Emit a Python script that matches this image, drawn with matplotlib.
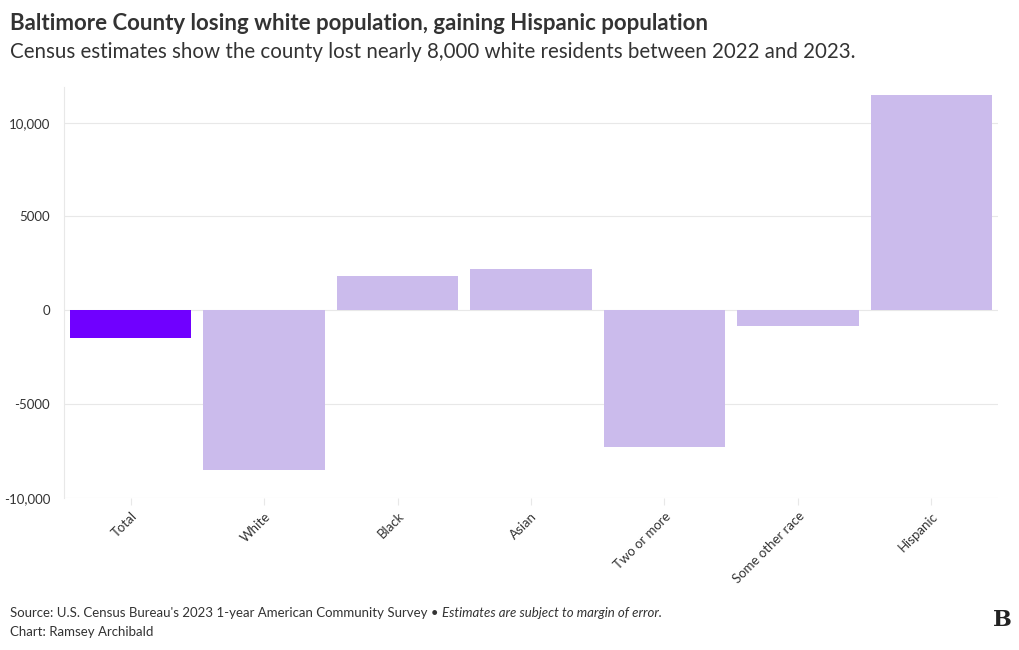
import matplotlib.pyplot as plt
from matplotlib.ticker import FuncFormatter

# population change 2022 -> 2023, Baltimore County
categories = ["Total", "White", "Black", "Asian", "Two or more", "Some other race", "Hispanic"]
change = [-1450, -8520, 1820, 2190, -7300, -820, 11500]
highlight = "Total"

plt.rcParams['font.family'] = ['Lato', 'DejaVu Sans']

fig = plt.figure(figsize=(10.2, 6.5), dpi=100)
ax = fig.add_axes([64 / 1020, 1 - 498 / 650, (998 - 64) / 1020, (498 - 87) / 650])

colors = ["#7000ff" if c == highlight else "#cbbbec" for c in categories]
ax.bar(range(len(categories)), change, width=0.91, color=colors, zorder=2)

ax.set_xlim(-0.5, len(categories) - 0.5)
ax.set_ylim(-10000, 11900)
ax.set_yticks([-10000, -5000, 0, 5000, 10000])


def fmt(v, pos):
    v = int(v)
    if abs(v) >= 10000:
        return f"{v:,}"
    return str(v)


ax.yaxis.set_major_formatter(FuncFormatter(fmt))
ax.grid(axis='y', color='#e8e8e8', linewidth=0.8, zorder=0)
for s in ['top', 'right', 'bottom']:
    ax.spines[s].set_visible(False)
ax.spines['left'].set_color('#e8e8e8')
ax.tick_params(axis='y', length=0, labelsize=9.5, labelcolor='#333333', pad=10)
ax.tick_params(axis='x', length=5, color='#e8e8e8', labelsize=9.5, labelcolor='#333333')
ax.set_xticks(range(len(categories)))
ax.set_xticklabels(categories, rotation=45, ha='right', rotation_mode='anchor')

fig.text(10 / 1020, 1 - 24 / 650, "Baltimore County losing white population, gaining Hispanic population",
         fontsize=16, fontweight='bold', color='#333333', va='center')
fig.text(10 / 1020, 1 - 52 / 650,
         "Census estimates show the county lost nearly 8,000 white residents between 2022 and 2023.",
         fontsize=14.8, color='#333333', va='center')

src = fig.text(10 / 1020, 1 - 613 / 650,
               "Source: U.S. Census Bureau's 2023 1-year American Community Survey \u2022 ",
               fontsize=9.5, color='#333333', va='center')
fig.canvas.draw()
bb = src.get_window_extent()
fig.text(bb.x1 / 1020, 1 - 613 / 650, "Estimates are subject to margin of error.",
         fontsize=9.5, color='#333333', va='center', style='italic')
fig.text(10 / 1020, 1 - 632 / 650, "Chart: Ramsey Archibald",
         fontsize=9.5, color='#333333', va='center')
fig.text(1002 / 1020, 1 - 620 / 650, "B", fontsize=16, fontweight='bold',
         family='DejaVu Serif', color='#222222', ha='center', va='center')

fig.savefig("out.png", dpi=100, facecolor='white')
